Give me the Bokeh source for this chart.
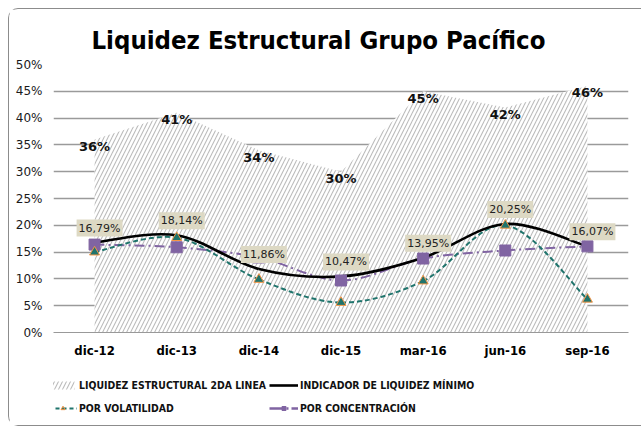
from bokeh.plotting import figure
from bokeh.layouts import column
from bokeh.models import (ColumnDataSource, FixedTicker, NumeralTickFormatter, LabelSet,
                          Legend, LegendItem, Range1d)
from bokeh.core.properties import value
from bokeh.embed import file_html
from bokeh.resources import INLINE

categories = ["dic-12", "dic-13", "dic-14", "dic-15", "mar-16", "jun-16", "sep-16"]
liquidez_2da = [0.36, 0.41, 0.34, 0.30, 0.45, 0.42, 0.46]
indicador_min = [0.1679, 0.1814, 0.1186, 0.1047, 0.1395, 0.2025, 0.1607]
por_volatilidad = [0.150, 0.177, 0.099, 0.056, 0.096, 0.200, 0.062]
por_concentracion = [0.164, 0.159, 0.140, 0.097, 0.138, 0.153, 0.1607]
area_labels = ["36%", "41%", "34%", "30%", "45%", "42%", "46%"]
ind_labels = ["16,79%", "18,14%", "11,86%", "10,47%", "13,95%", "20,25%", "16,07%"]
series_names = ["LIQUIDEZ ESTRUCTURAL 2DA LINEA", "INDICADOR DE LIQUIDEZ MÍNIMO",
                "POR VOLATILIDAD", "POR CONCENTRACIÓN"]

FONT = "DejaVu Sans"
FONT_C = "DejaVu Sans Condensed"
TEAL = "#1f746c"
PURPLE = "#8064a2"
ORANGE = "#f79646"
xs = list(range(len(categories)))
zeros = [0] * len(xs)

p = figure(width=632, height=354, output_backend="svg", toolbar_location=None,
           x_range=Range1d(-0.5, 6.5), y_range=Range1d(0, 0.5),
           min_border_left=44, min_border_right=13, min_border_top=55,
           min_border_bottom=31)
p.outline_line_color = None
p.background_fill_color = "white"

p.title.text = "Liquidez Estructural Grupo Pacífico"
p.title.align = "left"
p.title.offset = 38
p.title.text_font = FONT_C
p.title.text_font_size = "25.5px"
p.title.text_font_style = "bold"
p.title.text_color = "black"
p.title.standoff = 20

# axes
p.xaxis.ticker = FixedTicker(ticks=xs)
p.xaxis.major_label_overrides = {i: c for i, c in enumerate(categories)}
p.xaxis.major_label_text_font = FONT_C
p.xaxis.major_label_text_font_style = "bold"
p.xaxis.major_label_text_font_size = "13px"
p.xaxis.major_label_text_color = "black"
p.xaxis.major_label_standoff = 10
p.xaxis.major_tick_out = 0
p.xaxis.major_tick_in = 0
p.xaxis.axis_line_color = "#999999"
p.xaxis.major_tick_line_color = None
p.xaxis.minor_tick_line_color = None

p.yaxis.ticker = FixedTicker(ticks=[i * 0.05 for i in range(11)])
p.yaxis.formatter = NumeralTickFormatter(format="0%")
p.yaxis.major_label_text_font = FONT
p.yaxis.major_label_text_font_size = "12px"
p.yaxis.major_label_text_color = "#1a1a1a"
p.yaxis.axis_line_color = None
p.yaxis.major_tick_line_color = None
p.yaxis.minor_tick_line_color = None
p.yaxis.major_tick_out = 0
p.yaxis.major_tick_in = 0
p.yaxis.major_label_standoff = 11

p.xgrid.grid_line_color = None
p.ygrid.grid_line_color = "#9a9a9a"
p.ygrid.grid_line_width = 1.3

HATCH = dict(fill_color="white", hatch_pattern="/", hatch_color="#bcbcbc",
             hatch_scale=8, hatch_weight=1.1)

# area
src_area = ColumnDataSource(dict(x=xs, y=liquidez_2da, lab=area_labels, y0=zeros))
p.varea(x="x", y1="y0", y2="y", source=src_area, **HATCH)
p.add_layout(LabelSet(x="x", y="y", text="lab", source=src_area, text_align="center",
                      text_baseline="middle", y_offset=-7, text_font=value(FONT),
                      text_font_style="bold", text_font_size="13px",
                      text_color="#111111"))


def smooth(vals):
    n = len(vals)
    x0, y0, x1, y1, cx0, cy0, cx1, cy1 = [], [], [], [], [], [], [], []
    for i in range(n - 1):
        ip = max(i - 1, 0)
        inx = min(i + 2, n - 1)
        x0.append(xs[i]); y0.append(vals[i])
        x1.append(xs[i + 1]); y1.append(vals[i + 1])
        cx0.append(xs[i] + (xs[i + 1] - xs[ip]) / 6)
        cy0.append(vals[i] + (vals[i + 1] - vals[ip]) / 6)
        cx1.append(xs[i + 1] - (xs[inx] - xs[i]) / 6)
        cy1.append(vals[i + 1] - (vals[inx] - vals[i]) / 6)
    return dict(x0=x0, y0=y0, x1=x1, y1=y1, cx0=cx0, cy0=cy0, cx1=cx1, cy1=cy1)


BZ = dict(x0="x0", y0="y0", x1="x1", y1="y1", cx0="cx0", cy0="cy0", cx1="cx1", cy1="cy1")
p.bezier(source=ColumnDataSource(smooth(por_concentracion)), line_color=PURPLE,
         line_width=2, line_dash="10 4 2 4", **BZ)
p.bezier(source=ColumnDataSource(smooth(por_volatilidad)), line_color=TEAL,
         line_width=2, line_dash="5 3", **BZ)
p.bezier(source=ColumnDataSource(smooth(indicador_min)), line_color="black",
         line_width=2.6, **BZ)

p.scatter(xs, por_concentracion, marker="square", size=11, fill_color=PURPLE,
          line_color=PURPLE)
p.scatter(xs, por_volatilidad, marker="triangle", size=10, fill_color=TEAL,
          line_color=ORANGE, line_width=1)

src_ind = ColumnDataSource(dict(x=xs, y=indicador_min, lab=ind_labels))
p.text(x="x", y="y", text="lab", source=src_ind, text_align="center",
       text_baseline="bottom", x_offset=5, y_offset=-6, text_font=value(FONT),
       text_font_size="11px", text_color="#222222",
       background_fill_color="#ddd9c4", padding=2)

# legend strip: same series drawn out of view, only their legend swatches show
q = figure(width=632, height=62, output_backend="svg", toolbar_location=None,
           x_range=Range1d(100, 101), y_range=Range1d(100, 101),
           min_border_left=0, min_border_right=0, min_border_top=0,
           min_border_bottom=0)
q.axis.visible = False
q.grid.visible = False
q.outline_line_color = None

r_area = q.varea(x=xs, y1=zeros, y2=liquidez_2da, **HATCH)
l_ind = q.line(xs, indicador_min, line_color="black", line_width=2.6)
l_vol = q.line(xs, por_volatilidad, line_color=TEAL, line_width=2, line_dash="4 3")
m_vol = q.scatter(xs, por_volatilidad, marker="triangle", size=7, fill_color=TEAL,
                  line_color=ORANGE)
l_con = q.line(xs, por_concentracion, line_color=PURPLE, line_width=2.5,
               line_dash="14 3 2 3")
m_con = q.scatter(xs, por_concentracion, marker="square", size=7, fill_color=PURPLE,
                  line_color=PURPLE)


def make_legend(items, loc):
    lg = Legend(items=items, orientation="horizontal", location=loc)
    lg.label_text_font = FONT_C
    lg.label_text_font_style = "bold"
    lg.label_text_font_size = "10.4px"
    lg.label_text_color = "#111111"
    lg.label_standoff = 2
    lg.label_width = 188
    lg.glyph_width = 29
    lg.glyph_height = 10
    lg.label_height = 16
    lg.spacing = 2
    lg.padding = 0
    lg.margin = 0
    lg.border_line_color = None
    lg.background_fill_alpha = 0
    return lg


q.add_layout(make_legend([
    LegendItem(label=series_names[0], renderers=[r_area]),
    LegendItem(label=series_names[1], renderers=[l_ind]),
], (-5, 32)), "center")
q.add_layout(make_legend([
    LegendItem(label=series_names[2], renderers=[l_vol, m_vol]),
    LegendItem(label=series_names[3], renderers=[l_con, m_con]),
], (-5, 9)), "center")

layout = column(p, q, spacing=0,
                styles={"margin-left": "8px", "margin-top": "8px",
                        "border-left": "1px solid #8c8c8c",
                        "border-top": "1px solid #8c8c8c",
                        "border-bottom": "1px solid #8c8c8c",
                        "border-top-left-radius": "10px",
                        "border-bottom-left-radius": "10px"})

open("out.html", "w").write(file_html(layout, INLINE))
